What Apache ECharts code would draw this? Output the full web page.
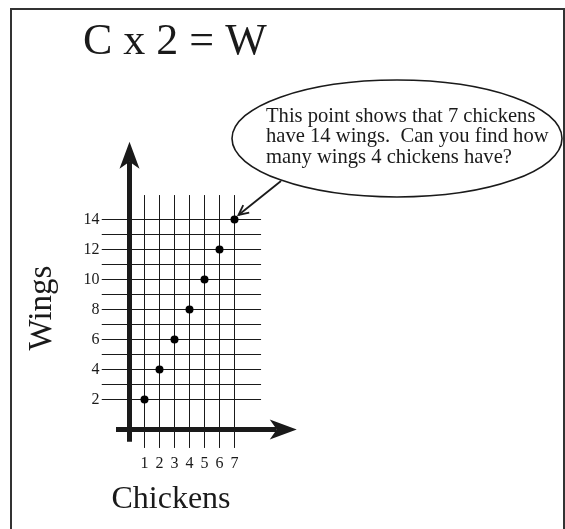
<!DOCTYPE html>
<html>
<head>
<meta charset="utf-8">
<script src="https://cdn.jsdelivr.net/npm/echarts@6/dist/echarts.min.js"></script>
<style>
  html, body { margin: 0; padding: 0; background: #fff; }
  #main { width: 565px; height: 529px; }
</style>
</head>
<body>
<div id="main"></div>
<script>
// data
var chickens = [1, 2, 3, 4, 5, 6, 7];
var wings = [2, 4, 6, 8, 10, 12, 14];
var gridRows = [2, 3, 4, 5, 6, 7, 8, 9, 10, 11, 12, 13, 14];
var wingLabels = [2, 4, 6, 8, 10, 12, 14];
var chickenLabels = [1, 2, 3, 4, 5, 6, 7];
var noteLines = ['This point shows that 7 chickens', 'have 14 wings.  Can you find how', 'many wings 4 chickens have?'];

var serif = '"Liberation Serif", "DejaVu Serif", serif';
var ink = '#1a1a1a';

var chart = echarts.init(document.getElementById('main'));

// thick axis with a stealth arrow head
function arrowItem(from, to, api) {
    var a = api.coord(from), b = api.coord(to);
    var dx = b[0] - a[0], dy = b[1] - a[1];
    var len = Math.sqrt(dx * dx + dy * dy);
    var ux = dx / len, uy = dy / len, nx = -uy, ny = ux;
    var L = 27, W = 10, N = 20;
    var notch = [b[0] - ux * N, b[1] - uy * N];
    return {
        type: 'group',
        children: [{
            type: 'line',
            shape: {x1: a[0], y1: a[1], x2: notch[0], y2: notch[1]},
            style: {stroke: ink, lineWidth: 5}
        }, {
            type: 'polygon',
            shape: {points: [
                b,
                [b[0] - ux * L + nx * W, b[1] - uy * L + ny * W],
                notch,
                [b[0] - ux * L - nx * W, b[1] - uy * L - ny * W]
            ]},
            style: {fill: ink}
        }]
    };
}

// pointer from the bubble to the last point
function pointer(x1, y1, x2, y2) {
    var dx = x2 - x1, dy = y2 - y1;
    var ang = Math.atan2(dy, dx);
    var h = 11, spread = 0.45;
    return [{
        type: 'line',
        shape: {x1: x1, y1: y1, x2: x2, y2: y2},
        style: {stroke: ink, lineWidth: 1.8}
    }, {
        type: 'polyline',
        shape: {points: [
            [x2 - h * Math.cos(ang - spread), y2 - h * Math.sin(ang - spread)],
            [x2, y2],
            [x2 - h * Math.cos(ang + spread), y2 - h * Math.sin(ang + spread)]
        ]},
        style: {stroke: ink, lineWidth: 1.8, fill: null}
    }];
}

var option = {
    animation: false,
    backgroundColor: '#fff',
    grid: {
        left: 129.5,
        top: 189.5,
        width: 120,
        height: 240,
        outerBoundsMode: 'none'
    },
    xAxis: {
        type: 'value',
        min: 0,
        max: 8,
        interval: 1,
        axisLine: {show: false},
        axisTick: {show: false},
        splitLine: {show: false},
        axisLabel: {
            margin: 26,
            fontFamily: serif,
            fontSize: 16,
            color: ink,
            formatter: function (v) {
                return chickenLabels.indexOf(v) >= 0 ? String(v) : '';
            }
        }
    },
    yAxis: {
        type: 'value',
        min: 0,
        max: 16,
        interval: 2,
        axisLine: {show: false},
        axisTick: {show: false},
        splitLine: {show: false},
        axisLabel: {
            margin: 30,
            fontFamily: serif,
            fontSize: 16,
            color: ink,
            formatter: function (v) {
                return wingLabels.indexOf(v) >= 0 ? String(v) : '';
            }
        }
    },
    series: [
        {
            // vertical grid lines
            type: 'custom',
            clip: false,
            silent: true,
            data: chickens.map(function (c) { return [c]; }),
            renderItem: function (params, api) {
                var p1 = api.coord([api.value(0), -1.23]);
                var p2 = api.coord([api.value(0), 15.63]);
                return {type: 'line', shape: {x1: p1[0], y1: p1[1], x2: p2[0], y2: p2[1]},
                    style: {stroke: ink, lineWidth: 1}};
            }
        },
        {
            // horizontal grid lines
            type: 'custom',
            clip: false,
            silent: true,
            data: gridRows.map(function (r) { return [0, r]; }),
            renderItem: function (params, api) {
                var p1 = api.coord([-1.85, api.value(1)]);
                var p2 = api.coord([8.77, api.value(1)]);
                return {type: 'line', shape: {x1: p1[0], y1: p1[1], x2: p2[0], y2: p2[1]},
                    style: {stroke: ink, lineWidth: 1}};
            }
        },
        {
            // the two heavy arrows
            type: 'custom',
            clip: false,
            silent: true,
            data: [[0], [1]],
            renderItem: function (params, api) {
                if (params.dataIndex === 0) {
                    return arrowItem([0, -0.81], [0, 19.19], api);
                }
                return arrowItem([-0.9, 0], [11.15, 0], api);
            }
        },
        {
            type: 'scatter',
            symbol: 'circle',
            symbolSize: 8,
            itemStyle: {color: '#000', opacity: 1},
            data: chickens.map(function (c, i) { return [c, wings[i]]; }),
            z: 5
        }
    ],
    graphic: [
        {
            type: 'rect',
            shape: {x: 11, y: 9, width: 553, height: 540},
            style: {fill: null, stroke: '#333', lineWidth: 2}
        },
        {
            type: 'text',
            x: 83, y: 42,
            style: {text: 'C x 2 = W', font: '44px ' + serif, fill: ink, align: 'left', verticalAlign: 'middle'}
        },
        {
            type: 'text',
            x: 42, y: 308,
            rotation: Math.PI / 2,
            style: {text: 'Wings', font: '33px ' + serif, fill: ink, align: 'center', verticalAlign: 'middle'}
        },
        {
            type: 'text',
            x: 171, y: 500,
            style: {text: 'Chickens', font: '32px ' + serif, fill: ink, align: 'center', verticalAlign: 'middle'}
        },
        {
            type: 'ellipse',
            shape: {cx: 397, cy: 138.5, rx: 165, ry: 58.5},
            style: {fill: '#fff', stroke: ink, lineWidth: 1.6}
        },
        {
            type: 'text',
            x: 266, y: 106,
            style: {text: noteLines.join('\n'), font: '20.6px ' + serif, lineHeight: 20.5, fill: ink, align: 'left', verticalAlign: 'top'}
        },
        {
            type: 'group',
            children: pointer(281, 181, 238.5, 215)
        }
    ]
};
chart.setOption(option);
</script>
</body>
</html>
